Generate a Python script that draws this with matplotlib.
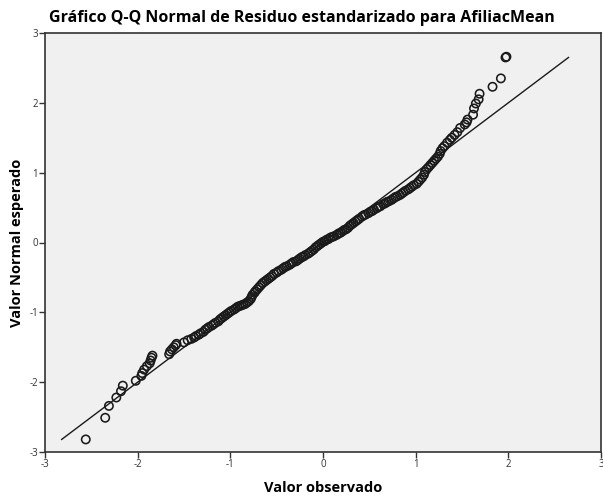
import matplotlib
matplotlib.use('Agg')
import matplotlib.pyplot as plt

observed = [
    -2.56, -2.35, -2.31, -2.23, -2.18, -2.16, -2.02, -1.96, -1.95, -1.93,
    -1.90, -1.87, -1.86, -1.85, -1.84, -1.66, -1.65, -1.63, -1.61, -1.59,
    -1.58, -1.50, -1.46, -1.42, -1.39, -1.37, -1.34, -1.32, -1.29, -1.27,
    -1.25, -1.23, -1.20, -1.18, -1.16, -1.13, -1.11, -1.09, -1.07, -1.05,
    -1.03, -1.01, -0.99, -0.96, -0.94, -0.92, -0.90, -0.88, -0.86, -0.84,
    -0.82, -0.80, -0.78, -0.77, -0.76, -0.74, -0.73, -0.71, -0.69, -0.67,
    -0.65, -0.63, -0.61, -0.59, -0.57, -0.55, -0.53, -0.50, -0.48, -0.45,
    -0.43, -0.41, -0.39, -0.36, -0.34, -0.32, -0.29, -0.27, -0.25, -0.23,
    -0.21, -0.19, -0.16, -0.14, -0.12, -0.10, -0.08, -0.06, -0.04, -0.02,
    0.00, 0.02, 0.04, 0.06, 0.08, 0.10, 0.12, 0.15, 0.17, 0.19,
    0.21, 0.23, 0.25, 0.27, 0.29, 0.31, 0.33, 0.35, 0.37, 0.39,
    0.42, 0.44, 0.46, 0.49, 0.51, 0.53, 0.55, 0.58, 0.60, 0.62,
    0.65, 0.67, 0.69, 0.71, 0.74, 0.76, 0.78, 0.80, 0.83, 0.85,
    0.87, 0.89, 0.92, 0.94, 0.96, 0.98, 1.01, 1.03, 1.05, 1.07,
    1.09, 1.10, 1.12, 1.14, 1.16, 1.18, 1.20, 1.22, 1.24, 1.26,
    1.27, 1.29, 1.31, 1.34, 1.37, 1.39, 1.42, 1.45, 1.48, 1.53,
    1.55, 1.56, 1.62, 1.63, 1.65, 1.68, 1.69, 1.83, 1.92, 1.97,
    1.98,
]
expected = [
    -2.82, -2.51, -2.34, -2.22, -2.13, -2.05, -1.98, -1.91, -1.87, -1.82,
    -1.77, -1.73, -1.69, -1.65, -1.62, -1.60, -1.56, -1.53, -1.50, -1.47,
    -1.45, -1.43, -1.40, -1.38, -1.36, -1.34, -1.32, -1.30, -1.28, -1.25,
    -1.23, -1.21, -1.19, -1.17, -1.15, -1.13, -1.10, -1.08, -1.06, -1.04,
    -1.02, -1.00, -0.98, -0.96, -0.94, -0.92, -0.91, -0.90, -0.89, -0.88,
    -0.86, -0.84, -0.81, -0.78, -0.75, -0.72, -0.70, -0.67, -0.64, -0.61,
    -0.58, -0.56, -0.54, -0.52, -0.50, -0.48, -0.45, -0.43, -0.41, -0.39,
    -0.37, -0.35, -0.34, -0.32, -0.30, -0.28, -0.27, -0.25, -0.23, -0.21,
    -0.20, -0.18, -0.16, -0.14, -0.12, -0.10, -0.07, -0.05, -0.03, -0.01,
    0.01, 0.02, 0.04, 0.05, 0.07, 0.08, 0.09, 0.11, 0.13, 0.14,
    0.16, 0.18, 0.19, 0.21, 0.24, 0.26, 0.28, 0.30, 0.32, 0.34,
    0.37, 0.39, 0.40, 0.42, 0.44, 0.45, 0.47, 0.49, 0.51, 0.52,
    0.55, 0.56, 0.58, 0.59, 0.61, 0.63, 0.65, 0.66, 0.68, 0.70,
    0.72, 0.74, 0.76, 0.78, 0.80, 0.82, 0.84, 0.87, 0.90, 0.93,
    0.97, 1.01, 1.05, 1.08, 1.11, 1.14, 1.17, 1.20, 1.23, 1.27,
    1.31, 1.35, 1.38, 1.43, 1.47, 1.50, 1.54, 1.58, 1.64, 1.69,
    1.72, 1.76, 1.83, 1.92, 1.99, 2.05, 2.13, 2.23, 2.35, 2.65,
    2.66,
]
ref_line = [-2.82, 2.65]
ticks = [-3, -2, -1, 0, 1, 2, 3]

plt.rcParams['font.family'] = ['Open Sans', 'DejaVu Sans']

fig = plt.figure(figsize=(6.03, 5.0), dpi=100)
ax = fig.add_axes([0.0746, 0.096, 0.922, 0.838])
ax.set_facecolor('#f0f0f0')

ax.plot(ref_line, ref_line, color='#1a1a1a', linewidth=1.0, zorder=2)
ax.scatter(observed, expected, s=36, facecolors='none', edgecolors='#1a1a1a',
           linewidths=1.15, zorder=3)

ax.set_xlim(-3, 3)
ax.set_ylim(-3, 3)
ax.set_xticks(ticks)
ax.set_yticks(ticks)
ax.set_xticklabels([str(t) for t in ticks])
ax.set_yticklabels([str(t) for t in ticks])
ax.tick_params(direction='out', length=4, width=1, labelsize=7, pad=1,
               colors='#333333')
for sp in ax.spines.values():
    sp.set_linewidth(1.2)
    sp.set_color('#333333')

ax.set_xlabel('Valor observado', fontsize=10.5, fontweight='bold', labelpad=8)
ax.set_ylabel('Valor Normal esperado', fontsize=10.5, fontweight='bold',
              labelpad=4)
fig.text(0.5, 0.965, 'Gráfico Q-Q Normal de Residuo estandarizado para AfiliacMean',
         ha='center', va='center', fontsize=11.5, fontweight='bold')

fig.savefig('out.png', dpi=100)
